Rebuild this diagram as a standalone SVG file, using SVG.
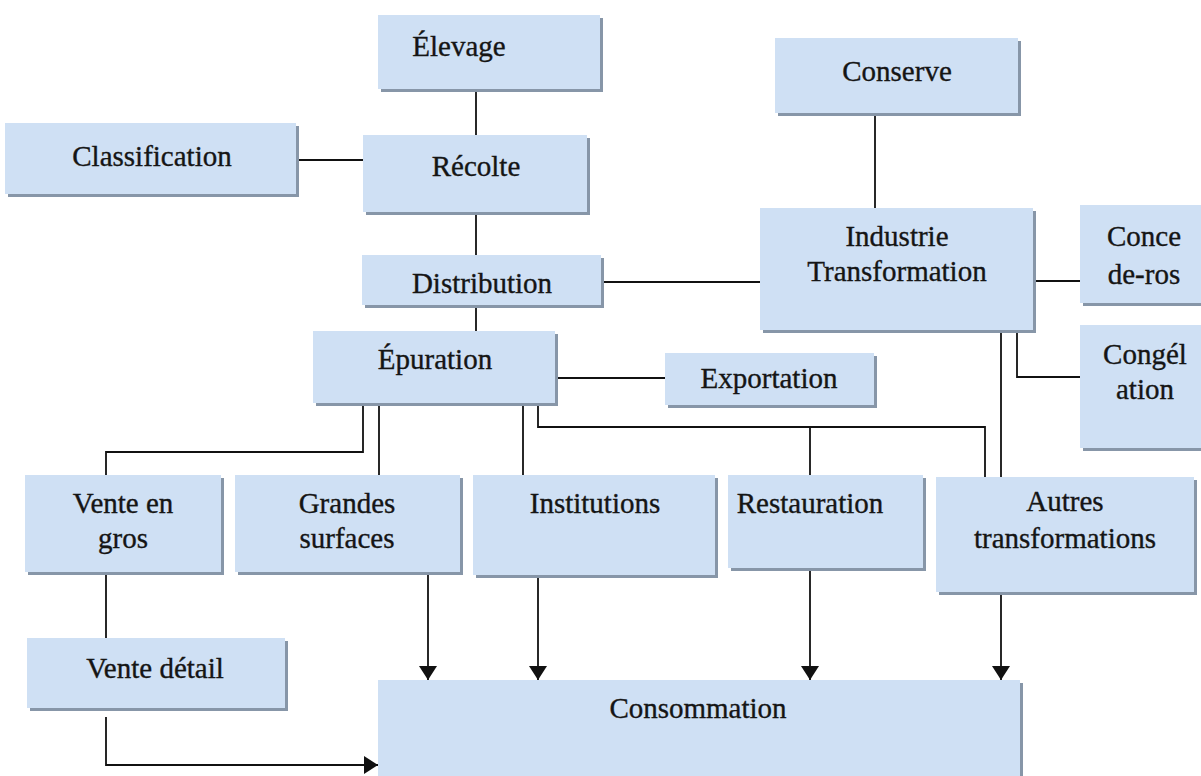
<svg xmlns="http://www.w3.org/2000/svg" width="1201" height="776" viewBox="0 0 1201 776">
<defs>
<style>
.box{fill:#cfe0f4;stroke:none}
.sh{fill:#8796a8;stroke:none}
.t{font-family:"Liberation Serif","Times New Roman",serif;font-size:29px;fill:#151515;stroke:#151515;stroke-width:0.35;text-anchor:middle}
.c{fill:none;stroke:#111;stroke-width:1.8}
</style>
<marker id="ar" viewBox="0 0 14 18" refX="14" refY="9" markerWidth="14" markerHeight="18" markerUnits="userSpaceOnUse" orient="auto">
<path d="M0,0 L14,9 L0,18 Z" fill="#111"/>
</marker>
</defs>
<rect width="1201" height="776" fill="#ffffff"/>

<g id="connectors">
<path class="c" d="M476,89 V135"/>
<path class="c" d="M476,212 V255"/>
<path class="c" d="M476,305 V331"/>
<path class="c" d="M296,160 H363"/>
<path class="c" d="M601,282 H760"/>
<path class="c" d="M875,113 V208"/>
<path class="c" d="M1033,281 H1080"/>
<path class="c" d="M1017,330 V377 H1080"/>
<path class="c" d="M1001,330 V477"/>
<path class="c" d="M555,378 H665"/>
<path class="c" d="M363,403 V452 H106 V475"/>
<path class="c" d="M379,403 V475"/>
<path class="c" d="M523,403 V475"/>
<path class="c" d="M538,403 V427 H985 V477"/>
<path class="c" d="M810,427 V475"/>
<path class="c" d="M106,572 V638"/>
<path class="c" d="M106,717 V765 H378" marker-end="url(#ar)"/>
<path class="c" d="M428,573 V680" marker-end="url(#ar)"/>
<path class="c" d="M538,576 V680" marker-end="url(#ar)"/>
<path class="c" d="M810,569 V680" marker-end="url(#ar)"/>
<path class="c" d="M1001,593 V680" marker-end="url(#ar)"/>
</g>

<g id="n-elevage">
<rect class="sh" x="381" y="18" width="222" height="74"/>
<rect class="box" x="378" y="15" width="222" height="74"/>
<text class="t" x="459" y="56">Élevage</text>
</g>
<g id="n-classification">
<rect class="sh" x="8" y="126" width="291" height="71"/>
<rect class="box" x="5" y="123" width="291" height="71"/>
<text class="t" x="152" y="166">Classification</text>
</g>
<g id="n-recolte">
<rect class="sh" x="366" y="138" width="224" height="77"/>
<rect class="box" x="363" y="135" width="224" height="77"/>
<text class="t" x="476" y="176">Récolte</text>
</g>
<g id="n-distribution">
<rect class="sh" x="365" y="258" width="239" height="50"/>
<rect class="box" x="362" y="255" width="239" height="50"/>
<text class="t" x="482" y="293">Distribution</text>
</g>
<g id="n-epuration">
<rect class="sh" x="316" y="334" width="242" height="72"/>
<rect class="box" x="313" y="331" width="242" height="72"/>
<text class="t" x="435" y="369">Épuration</text>
</g>
<g id="n-exportation">
<rect class="sh" x="668" y="356" width="209" height="52"/>
<rect class="box" x="665" y="353" width="209" height="52"/>
<text class="t" x="769" y="388">Exportation</text>
</g>
<g id="n-conserve">
<rect class="sh" x="778" y="41" width="243" height="75"/>
<rect class="box" x="775" y="38" width="243" height="75"/>
<text class="t" x="897" y="81">Conserve</text>
</g>
<g id="n-industrie">
<rect class="sh" x="763" y="211" width="273" height="122"/>
<rect class="box" x="760" y="208" width="273" height="122"/>
<text class="t" x="897" y="246">Industrie</text>
<text class="t" x="897" y="281">Transformation</text>
</g>
<g id="n-concederos">
<rect class="sh" x="1083" y="208" width="125" height="98"/>
<rect class="box" x="1080" y="205" width="125" height="98"/>
<text class="t" x="1144" y="246">Conce</text>
<text class="t" x="1144" y="284">de-ros</text>
</g>
<g id="n-congelation">
<rect class="sh" x="1083" y="328" width="125" height="123"/>
<rect class="box" x="1080" y="325" width="125" height="123"/>
<text class="t" x="1145" y="364">Congél</text>
<text class="t" x="1145" y="399">ation</text>
</g>
<g id="n-ventegros">
<rect class="sh" x="28" y="478" width="196" height="97"/>
<rect class="box" x="25" y="475" width="196" height="97"/>
<text class="t" x="123" y="513">Vente en</text>
<text class="t" x="123" y="548">gros</text>
</g>
<g id="n-grandes">
<rect class="sh" x="238" y="478" width="225" height="97"/>
<rect class="box" x="235" y="475" width="225" height="97"/>
<text class="t" x="347" y="513">Grandes</text>
<text class="t" x="347" y="548">surfaces</text>
</g>
<g id="n-institutions">
<rect class="sh" x="476" y="478" width="242" height="100"/>
<rect class="box" x="473" y="475" width="242" height="100"/>
<text class="t" x="595" y="513">Institutions</text>
</g>
<g id="n-restauration">
<rect class="sh" x="731" y="478" width="195" height="93"/>
<rect class="box" x="728" y="475" width="195" height="93"/>
<text class="t" x="810" y="513">Restauration</text>
</g>
<g id="n-autres">
<rect class="sh" x="939" y="480" width="258" height="115"/>
<rect class="box" x="936" y="477" width="258" height="115"/>
<text class="t" x="1065" y="511">Autres</text>
<text class="t" x="1065" y="548">transformations</text>
</g>
<g id="n-ventedetail">
<rect class="sh" x="30" y="641" width="258" height="70"/>
<rect class="box" x="27" y="638" width="258" height="70"/>
<text class="t" x="155" y="678">Vente détail</text>
</g>
<g id="n-consommation">
<rect class="sh" x="381" y="683" width="642" height="100"/>
<rect class="box" x="378" y="680" width="642" height="100"/>
<text class="t" x="698" y="718">Consommation</text>
</g>
</svg>
